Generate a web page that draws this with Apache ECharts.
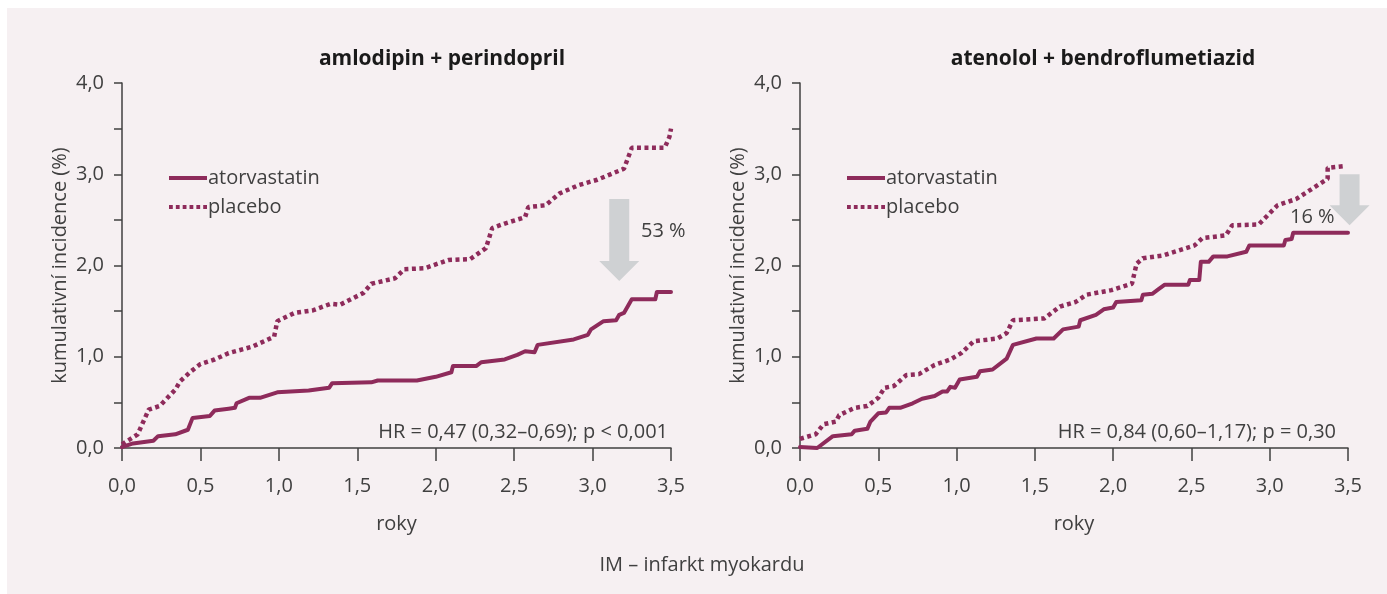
<!DOCTYPE html>
<html>
<head>
<meta charset="utf-8">
<script src="https://cdn.jsdelivr.net/npm/echarts@6/dist/echarts.min.js"></script>
<style>
  html, body { margin: 0; padding: 0; background: #fff; }
  #chart { width: 1387px; height: 594px; }
</style>
</head>
<body>
<div id="chart"></div>
<script>
// years, cumulative incidence (%)
const atorvaAP = [[0,0.01],[0.07,0.05],[0.2,0.08],[0.23,0.13],[0.34,0.15],[0.42,0.2],[0.45,0.33],[0.56,0.35],[0.59,0.41],[0.68,0.43],[0.72,0.44],[0.73,0.49],[0.81,0.55],[0.88,0.55],[0.99,0.61],[1.19,0.63],[1.32,0.66],[1.34,0.71],[1.59,0.72],[1.63,0.74],[1.88,0.74],[2.0,0.78],[2.1,0.83],[2.11,0.9],[2.26,0.9],[2.29,0.94],[2.44,0.97],[2.52,1.02],[2.57,1.06],[2.63,1.05],[2.65,1.13],[2.88,1.19],[2.97,1.24],[2.99,1.3],[3.07,1.39],[3.15,1.4],[3.17,1.46],[3.2,1.48],[3.25,1.63],[3.4,1.63],[3.41,1.71],[3.5,1.71]];
const placeboAP = [[0,0.04],[0.1,0.15],[0.17,0.42],[0.24,0.46],[0.34,0.64],[0.37,0.73],[0.44,0.84],[0.5,0.92],[0.59,0.97],[0.68,1.04],[0.83,1.11],[0.97,1.22],[0.99,1.39],[1.1,1.48],[1.22,1.51],[1.33,1.58],[1.39,1.57],[1.54,1.7],[1.59,1.8],[1.74,1.86],[1.8,1.96],[1.93,1.97],[2.08,2.06],[2.22,2.07],[2.32,2.19],[2.36,2.41],[2.44,2.46],[2.57,2.53],[2.59,2.64],[2.7,2.66],[2.79,2.79],[2.91,2.88],[3.03,2.94],[3.2,3.06],[3.25,3.29],[3.46,3.29],[3.49,3.41],[3.5,3.5]];
const atorvaAB = [[0,0.01],[0.11,0.0],[0.21,0.13],[0.33,0.15],[0.35,0.19],[0.43,0.21],[0.45,0.29],[0.5,0.38],[0.55,0.39],[0.57,0.44],[0.64,0.44],[0.72,0.49],[0.78,0.54],[0.86,0.57],[0.91,0.62],[0.94,0.62],[0.96,0.67],[0.99,0.66],[1.02,0.75],[1.13,0.78],[1.15,0.84],[1.23,0.86],[1.32,0.98],[1.36,1.13],[1.51,1.2],[1.62,1.2],[1.68,1.3],[1.78,1.33],[1.79,1.4],[1.89,1.46],[1.94,1.52],[2.0,1.54],[2.02,1.6],[2.18,1.62],[2.19,1.68],[2.25,1.69],[2.29,1.74],[2.33,1.79],[2.48,1.79],[2.49,1.84],[2.55,1.84],[2.56,2.04],[2.61,2.04],[2.64,2.1],[2.73,2.1],[2.85,2.15],[2.87,2.22],[3.09,2.22],[3.1,2.28],[3.14,2.29],[3.15,2.36],[3.5,2.36]];
const placeboAB = [[0,0.1],[0.1,0.15],[0.15,0.26],[0.23,0.29],[0.25,0.36],[0.35,0.44],[0.43,0.46],[0.5,0.55],[0.54,0.66],[0.6,0.68],[0.68,0.8],[0.76,0.81],[0.86,0.91],[0.96,0.97],[1.03,1.04],[1.11,1.17],[1.26,1.2],[1.32,1.26],[1.36,1.4],[1.56,1.42],[1.66,1.55],[1.76,1.6],[1.83,1.68],[1.99,1.73],[2.12,1.8],[2.15,2.02],[2.19,2.08],[2.32,2.11],[2.52,2.22],[2.57,2.3],[2.72,2.33],[2.76,2.44],[2.93,2.45],[3.05,2.66],[3.17,2.73],[3.27,2.84],[3.37,2.95],[3.37,3.07],[3.48,3.09]];

const titles = ['amlodipin + perindopril', 'atenolol + bendroflumetiazid'];
const hrTexts = ['HR = 0,47 (0,32–0,69); p < 0,001', 'HR = 0,84 (0,60–1,17); p = 0,30'];
const reductions = ['53 %', '16 %'];
// arrow: [x, top y, head base y, tip y] in data units
const arrows = [[3.17, 2.73, 2.05, 1.83], [3.51, 3.0, 2.66, 2.44]];

const FONT = '"Open Sans", sans-serif';
const FS = 20;
const INK = '#404040';
const WINE = '#8e2b5b';
const GREY = '#cfd1d3';

const grids = [
  { left: 122, top: 83, width: 549, height: 365 },
  { left: 800, top: 83, width: 548, height: 365 }
];

const fmt = v => v.toFixed(1).replace('.', ',');
const SOLID_ICON = 'path://M0,0h40v4h-40z';
const DOT_ICON = 'path://M0,0h4v4h-4zM7.2,0h4v4h-4zM14.4,0h4v4h-4zM21.6,0h4v4h-4zM28.8,0h4v4h-4zM36,0h4v4h-4z';

function xAxisOf(i) {
  return {
    type: 'value', gridIndex: i, min: 0, max: 3.5, interval: 0.5, offset: 5,
    name: 'roky', nameLocation: 'middle', nameGap: 61,
    nameTextStyle: { fontFamily: FONT, fontSize: FS, color: INK },
    axisLine: { lineStyle: { color: INK, width: 1.5 } },
    axisTick: { length: 13, lineStyle: { color: INK, width: 1.5 } },
    axisLabel: { margin: 23, fontFamily: FONT, fontSize: FS, color: INK, formatter: fmt },
    splitLine: { show: false }
  };
}
function yAxisOf(i) {
  return {
    type: 'value', gridIndex: i, min: 0, max: 4, interval: 0.5, offset: 4,
    name: 'kumulativní incidence (%)', nameLocation: 'middle', nameGap: 48,
    nameTextStyle: { fontFamily: FONT, fontSize: FS, color: INK },
    axisLine: { show: true, lineStyle: { color: INK, width: 1.5 } },
    axisTick: { show: true, length: 8, lineStyle: { color: INK, width: 1.5 } },
    axisLabel: { margin: 14, fontFamily: FONT, fontSize: FS, color: INK,
      formatter: v => (Math.abs(v - Math.round(v)) < 1e-6 ? fmt(v) : '') },
    splitLine: { show: false }
  };
}
function lineSeries(name, data, i, dotted) {
  return {
    name, type: 'line', xAxisIndex: i, yAxisIndex: i, data,
    symbol: 'none', silent: true, animation: false,
    lineStyle: dotted
      ? { color: WINE, width: 4.5, type: [4, 3.5], cap: 'butt' }
      : { color: WINE, width: 4, cap: 'round', join: 'round' },
    itemStyle: { color: WINE }
  };
}

const chart = echarts.init(document.getElementById('chart'));
chart.setOption({
  backgroundColor: '#ffffff',
  animation: false,
  title: [
    { text: titles[0], left: 437, top: 44, textAlign: 'center',
      textStyle: { fontFamily: FONT, fontSize: 21, fontWeight: 'bold', color: '#1a1a1a' } },
    { text: titles[1], left: 1098, top: 44, textAlign: 'center',
      textStyle: { fontFamily: FONT, fontSize: 21, fontWeight: 'bold', color: '#1a1a1a' } },
    { text: 'IM – infarkt myokardu', left: 697, top: 550, textAlign: 'center',
      textStyle: { fontFamily: FONT, fontSize: FS, fontWeight: 'normal', color: INK } }
  ],
  legend: [0, 1].map(i => ({
    orient: 'vertical', left: i === 0 ? 164 : 842, top: 163,
    itemWidth: 38, itemHeight: 4, itemGap: 9,
    data: [{ name: 'atorvastatin', icon: SOLID_ICON }, { name: 'placebo', icon: DOT_ICON }],
    itemStyle: { color: WINE },
    textStyle: { fontFamily: FONT, fontSize: FS, color: INK, lineHeight: 20, padding: [0, 0, 0, -4] },
    selectedMode: false
  })),
  grid: grids,
  xAxis: [xAxisOf(0), xAxisOf(1)],
  yAxis: [yAxisOf(0), yAxisOf(1)],
  series: [
    lineSeries('atorvastatin', atorvaAP, 0, false),
    lineSeries('placebo', placeboAP, 0, true),
    lineSeries('atorvastatin', atorvaAB, 1, false),
    lineSeries('placebo', placeboAB, 1, true)
  ]
});

// annotations: panel background, arrows, texts
const gfx = [
  { type: 'rect', z: -10, shape: { x: 7, y: 8, width: 1380, height: 586 }, style: { fill: '#f6f0f2' }, silent: true }
];
arrows.forEach((a, i) => {
  const top = chart.convertToPixel({ gridIndex: i }, [a[0], a[1]]);
  const base = chart.convertToPixel({ gridIndex: i }, [a[0], a[2]]);
  const tip = chart.convertToPixel({ gridIndex: i }, [a[0], a[3]]);
  const cx = top[0];
  gfx.push({
    type: 'polygon', z: 5, silent: true,
    shape: { points: [[cx - 10, top[1]], [cx + 10, top[1]], [cx + 10, base[1]], [cx + 20, base[1]],
                      [cx, tip[1]], [cx - 20, base[1]], [cx - 10, base[1]]] },
    style: { fill: GREY }
  });
});
gfx.push(
  { type: 'text', x: 641, y: 231, style: { text: reductions[0], fontFamily: FONT, fontSize: FS, fill: INK, verticalAlign: 'middle' } },
  { type: 'text', x: 1290, y: 217, style: { text: reductions[1], fontFamily: FONT, fontSize: FS, fill: INK, verticalAlign: 'middle' } },
  { type: 'text', x: 668, y: 432, style: { text: hrTexts[0], fontFamily: FONT, fontSize: FS, fill: INK, align: 'right', verticalAlign: 'middle' } },
  { type: 'text', x: 1336, y: 432, style: { text: hrTexts[1], fontFamily: FONT, fontSize: FS, fill: INK, align: 'right', verticalAlign: 'middle' } }
);
chart.setOption({ graphic: gfx });
</script>
</body>
</html>
